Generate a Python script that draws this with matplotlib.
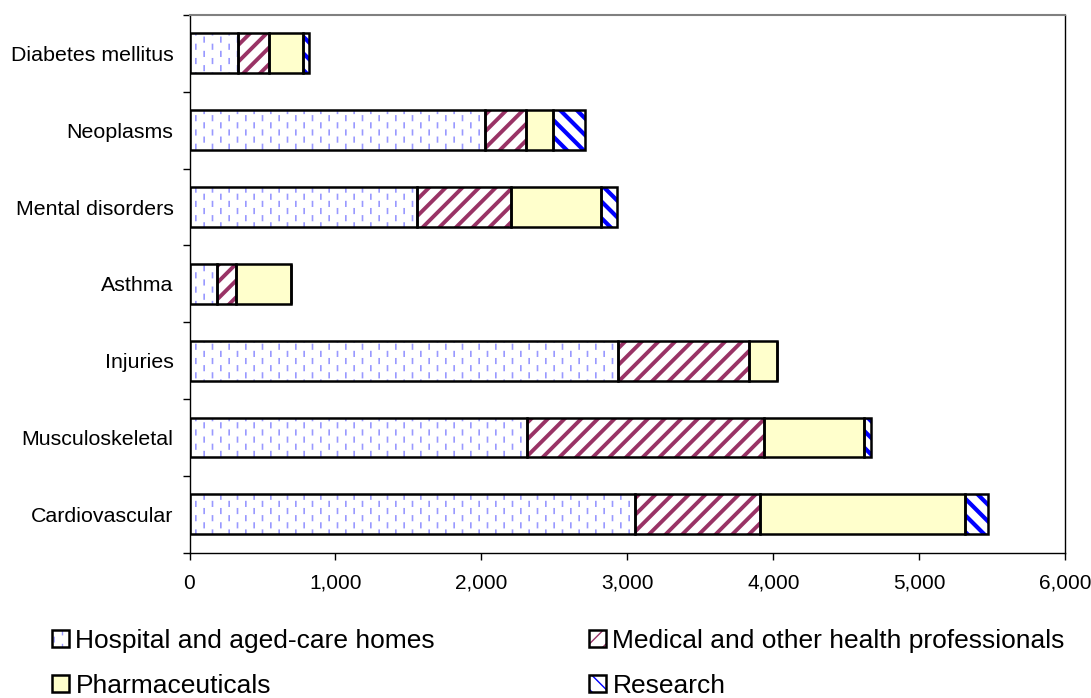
import matplotlib
matplotlib.use("Agg")
import matplotlib.pyplot as plt
import matplotlib.hatch as mhatch
import numpy as np
from matplotlib.patches import Patch
from matplotlib.path import Path
from matplotlib.ticker import FuncFormatter, FixedLocator

plt.rcParams['font.family'] = ['Liberation Sans', 'DejaVu Sans']

categories = ["Cardiovascular", "Musculoskeletal", "Injuries", "Asthma",
              "Mental disorders", "Neoplasms", "Diabetes mellitus"]
hospital = [3054, 2309, 2933, 186, 1561, 2024, 334]
medical = [857, 1629, 899, 133, 641, 279, 211]
pharma = [1404, 681, 193, 374, 615, 189, 235]
research = [153, 53, 0, 0, 114, 217, 37]

series_names = ["Hospital and aged-care homes", "Medical and other health professionals",
                "Pharmaceuticals", "Research"]
series_values = [hospital, medical, pharma, research]


# Dashed vertical hatch (staggered short dashes) used for the '|' pattern
class DashedVerticalHatch(mhatch.HatchPatternBase):
    ROWS = 7
    DASH = 0.045

    def __init__(self, hatch, density):
        self.num_lines = int((hatch.count('|') + hatch.count('+')) * density)
        self.num_vertices = self.num_lines * self.ROWS * 2

    def set_vertices_and_codes(self, vertices, codes):
        xs = np.linspace(0, 1, self.num_lines, endpoint=False) + 0.5 / self.num_lines
        k = 0
        for i, x in enumerate(xs):
            for j in range(self.ROWS):
                y0 = (j + 0.5 * (i % 2)) / self.ROWS + 0.01
                vertices[k] = (x, y0)
                vertices[k + 1] = (x, y0 + self.DASH)
                codes[k] = Path.MOVETO
                codes[k + 1] = Path.LINETO
                k += 2


mhatch._hatch_types = [DashedVerticalHatch if t is mhatch.VerticalHatch else t
                       for t in mhatch._hatch_types]

styles = [
    dict(face="white", hatch="||", hcolor="#9999ff", hlw=1.2),
    dict(face="white", hatch="//", hcolor="#993366", hlw=2.8),
    dict(face="#FFFFCC", hatch=None, hcolor="#FFFFCC", hlw=1.0),
    dict(face="white", hatch="\\\\", hcolor="#0000FF", hlw=3.0),
]

fig = plt.figure(figsize=(10.91, 6.98), dpi=100)
ax = fig.add_axes([189.5 / 1091, 1 - 552.7 / 698, (1065.3 - 189.5) / 1091, (552.7 - 15) / 698])

y = np.arange(len(categories))
left = np.zeros(len(categories))
height = 0.52
handles = []
for name, vals, st in zip(series_names, series_values, styles):
    vals = np.array(vals, dtype=float)
    with plt.rc_context({'hatch.linewidth': st['hlw']}):
        fill = ax.barh(y, vals, left=left, height=height, color=st['face'],
                       edgecolor=st['hcolor'], linewidth=0, hatch=st['hatch'], zorder=2)
        for p in fill:
            try:
                p.set_hatch_linewidth(st['hlw'])
            except Exception:
                pass
        hp = Patch(facecolor=st['face'], edgecolor=st['hcolor'], linewidth=0, hatch=st['hatch'])
        try:
            hp.set_hatch_linewidth(st['hlw'])
        except Exception:
            pass
    ax.barh(y, vals, left=left, height=height, facecolor="none",
            edgecolor="black", linewidth=1.8, zorder=3)
    bp = Patch(facecolor="none", edgecolor="black", linewidth=1.8)
    handles.append((hp, bp))
    left = left + vals

ax.set_xlim(0, 6000)
ax.set_ylim(-0.5, len(categories) - 0.5)
ax.xaxis.set_major_locator(FixedLocator(np.arange(0, 6001, 1000)))
ax.xaxis.set_major_formatter(FuncFormatter(lambda v, p: f"{v:,.0f}"))
ax.set_yticks(y)
ax.set_yticklabels(categories)
ax.set_yticks(np.arange(-0.5, len(categories), 1.0), minor=True)
ax.tick_params(axis='y', which='major', length=0, pad=11.5, labelsize=15.4)
ax.tick_params(axis='y', which='minor', length=5, width=1, direction='out')
ax.tick_params(axis='x', which='major', length=5, width=1, direction='out', pad=10, labelsize=15)

for s in ['left', 'bottom']:
    ax.spines[s].set_color('black')
    ax.spines[s].set_linewidth(1.0)
ax.spines['top'].set_color('#808080')
ax.spines['top'].set_linewidth(1.5)
ax.spines['right'].set_color('black')
ax.spines['right'].set_linewidth(1.0)

leg_kw = dict(loc='upper left', frameon=False, fontsize=19, borderpad=0, borderaxespad=0,
              handlelength=0.64, handleheight=0.64, handletextpad=0.25, labelspacing=0.78)
fig.legend([handles[0], handles[2]], [series_names[0], series_names[2]],
           bbox_to_anchor=(52 / 1091, 1 - 629 / 698), **leg_kw)
fig.legend([handles[1], handles[3]], [series_names[1], series_names[3]],
           bbox_to_anchor=(589 / 1091, 1 - 629 / 698), **leg_kw)

fig.savefig("out.png", dpi=100)
